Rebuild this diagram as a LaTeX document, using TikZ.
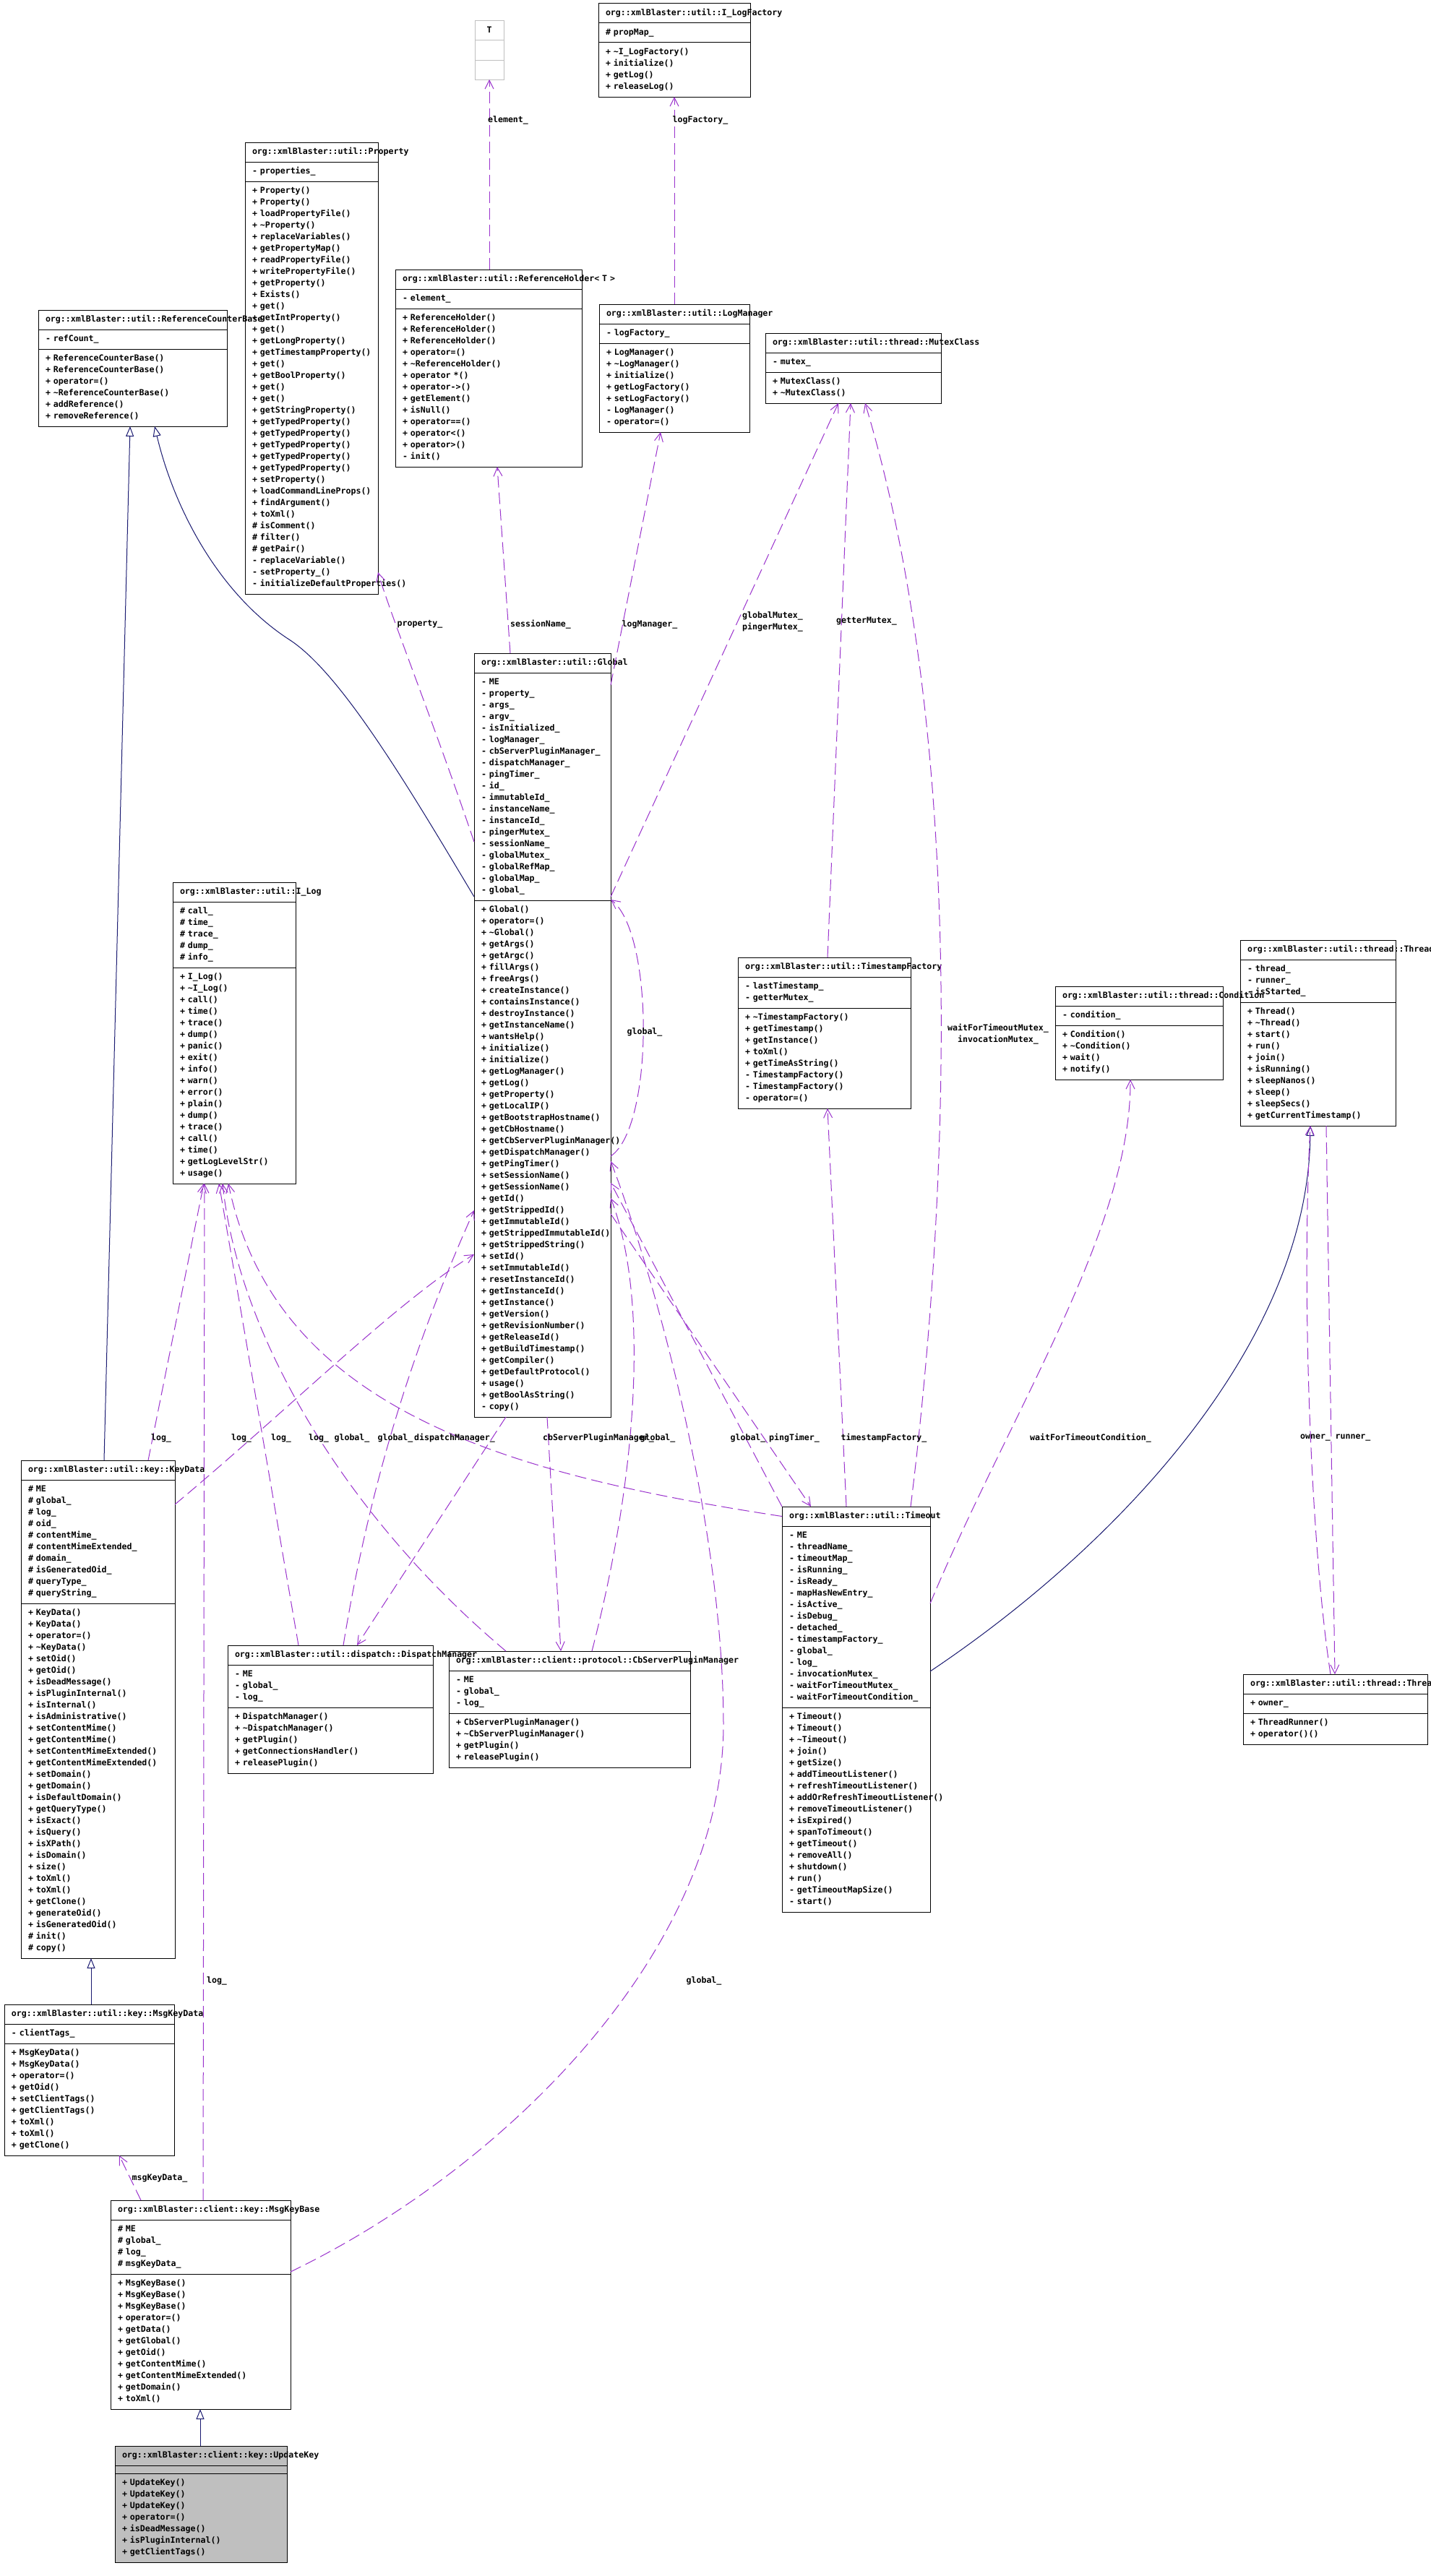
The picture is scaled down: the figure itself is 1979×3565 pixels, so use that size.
\documentclass[tikz,border=0pt]{standalone}
\usepackage{fontspec}
\newfontfamily\dxfont{DejaVu Sans Mono}
\usetikzlibrary{positioning, arrows.meta}
\definecolor{inhblue}{RGB}{25,25,112}
\definecolor{usepurple}{RGB}{154,50,205}
\definecolor{boxgray}{RGB}{191,191,191}
\newcommand{\boxfont}{\dxfont\bfseries\fontsize{11.6}{16}\selectfont}
\newcommand{\tld}{\char"7E\relax}
\newcommand{\members}[1]{\rlap{\begin{tabular}[t]{@{}l@{}}#1\end{tabular}}}
\tikzset{
  sec/.style={draw=black, line width=1pt, align=left, inner xsep=10pt, inner ysep=5.5pt, outer sep=0pt, font=\boxfont},
  inh/.style={draw=inhblue, line width=1pt, -{Triangle[open, length=14pt, width=11pt]}},
  use/.style={draw=usepurple, line width=1pt, dash pattern=on 16pt off 7pt, -{Straight Barb[length=12pt, width=12pt]}},
  lbl/.style={font=\boxfont, inner sep=0pt, align=center}
}
\begin{document}
\begin{tikzpicture}[x=1pt, y=-1pt]
\fill[white] (0,0) rectangle (1979,3565);
\useasboundingbox (0,0) rectangle (1979,3565);

% T
\node[sec, draw=boxgray, text width=20pt, align=center, anchor=north west] (t) at (657,29) {\strut T};
\node[sec, draw=boxgray, text width=20pt, below=0pt of t] (t-a) {\strut};
\node[sec, draw=boxgray, text width=20pt, below=0pt of t-a] (t-m) {\strut};

% I_LogFactory
\node[sec, text width=190pt, anchor=north west] (logfactory) at (828,5) {\members{org::xmlBlaster::util::I\_LogFactory}};
\node[sec, text width=190pt, below=0pt of logfactory] (logfactory-a) {\members{\# propMap\_}};
\node[sec, text width=190pt, below=0pt of logfactory-a] (logfactory-m) {\members{+ \tld I\_LogFactory()\\+ initialize()\\+ getLog()\\+ releaseLog()}};

% Property
\node[sec, text width=164pt, anchor=north west] (property) at (339,197) {\members{org::xmlBlaster::util::Property}};
\node[sec, text width=164pt, below=0pt of property] (property-a) {\members{- properties\_}};
\node[sec, text width=164pt, below=0pt of property-a] (property-m) {\members{+ Property()\\+ Property()\\+ loadPropertyFile()\\+ \tld Property()\\+ replaceVariables()\\+ getPropertyMap()\\+ readPropertyFile()\\+ writePropertyFile()\\+ getProperty()\\+ Exists()\\+ get()\\+ getIntProperty()\\+ get()\\+ getLongProperty()\\+ getTimestampProperty()\\+ get()\\+ getBoolProperty()\\+ get()\\+ get()\\+ getStringProperty()\\+ getTypedProperty()\\+ getTypedProperty()\\+ getTypedProperty()\\+ getTypedProperty()\\+ getTypedProperty()\\+ setProperty()\\+ loadCommandLineProps()\\+ findArgument()\\+ toXml()\\\# isComment()\\\# filter()\\\# getPair()\\- replaceVariable()\\- setProperty\_()\\- initializeDefaultProperties()}};

% ReferenceCounterBase
\node[sec, text width=241pt, anchor=north west] (rcb) at (53,429) {\members{org::xmlBlaster::util::ReferenceCounterBase}};
\node[sec, text width=241pt, below=0pt of rcb] (rcb-a) {\members{- refCount\_}};
\node[sec, text width=241pt, below=0pt of rcb-a] (rcb-m) {\members{+ ReferenceCounterBase()\\+ ReferenceCounterBase()\\+ operator=()\\+ \tld ReferenceCounterBase()\\+ addReference()\\+ removeReference()}};

% ReferenceHolder
\node[sec, text width=238pt, anchor=north west] (refholder) at (547,373) {\members{org::xmlBlaster::util::ReferenceHolder< T >}};
\node[sec, text width=238pt, below=0pt of refholder] (refholder-a) {\members{- element\_}};
\node[sec, text width=238pt, below=0pt of refholder-a] (refholder-m) {\members{+ ReferenceHolder()\\+ ReferenceHolder()\\+ ReferenceHolder()\\+ operator=()\\+ \tld ReferenceHolder()\\+ operator *()\\+ operator->()\\+ getElement()\\+ isNull()\\+ operator==()\\+ operator<()\\+ operator>()\\- init()}};

% LogManager
\node[sec, text width=188pt, anchor=north west] (logmanager) at (829,421) {\members{org::xmlBlaster::util::LogManager}};
\node[sec, text width=188pt, below=0pt of logmanager] (logmanager-a) {\members{- logFactory\_}};
\node[sec, text width=188pt, below=0pt of logmanager-a] (logmanager-m) {\members{+ LogManager()\\+ \tld LogManager()\\+ initialize()\\+ getLogFactory()\\+ setLogFactory()\\- LogManager()\\- operator=()}};

% MutexClass
\node[sec, text width=223pt, anchor=north west] (mutex) at (1059,461) {\members{org::xmlBlaster::util::thread::MutexClass}};
\node[sec, text width=223pt, below=0pt of mutex] (mutex-a) {\members{- mutex\_}};
\node[sec, text width=223pt, below=0pt of mutex-a] (mutex-m) {\members{+ MutexClass()\\+ \tld MutexClass()}};

% Global
\node[sec, text width=169pt, anchor=north west] (global) at (656,904) {\members{org::xmlBlaster::util::Global}};
\node[sec, text width=169pt, below=0pt of global] (global-a) {\members{- ME\\- property\_\\- args\_\\- argv\_\\- isInitialized\_\\- logManager\_\\- cbServerPluginManager\_\\- dispatchManager\_\\- pingTimer\_\\- id\_\\- immutableId\_\\- instanceName\_\\- instanceId\_\\- pingerMutex\_\\- sessionName\_\\- globalMutex\_\\- globalRefMap\_\\- globalMap\_\\- global\_}};
\node[sec, text width=169pt, below=0pt of global-a] (global-m) {\members{+ Global()\\+ operator=()\\+ \tld Global()\\+ getArgs()\\+ getArgc()\\+ fillArgs()\\+ freeArgs()\\+ createInstance()\\+ containsInstance()\\+ destroyInstance()\\+ getInstanceName()\\+ wantsHelp()\\+ initialize()\\+ initialize()\\+ getLogManager()\\+ getLog()\\+ getProperty()\\+ getLocalIP()\\+ getBootstrapHostname()\\+ getCbHostname()\\+ getCbServerPluginManager()\\+ getDispatchManager()\\+ getPingTimer()\\+ setSessionName()\\+ getSessionName()\\+ getId()\\+ getStrippedId()\\+ getImmutableId()\\+ getStrippedImmutableId()\\+ getStrippedString()\\+ setId()\\+ setImmutableId()\\+ resetInstanceId()\\+ getInstanceId()\\+ getInstance()\\+ getVersion()\\+ getRevisionNumber()\\+ getReleaseId()\\+ getBuildTimestamp()\\+ getCompiler()\\+ getDefaultProtocol()\\+ usage()\\+ getBoolAsString()\\- copy()}};

% I_Log
\node[sec, text width=150pt, anchor=north west] (ilog) at (239,1221) {\members{org::xmlBlaster::util::I\_Log}};
\node[sec, text width=150pt, below=0pt of ilog] (ilog-a) {\members{\# call\_\\\# time\_\\\# trace\_\\\# dump\_\\\# info\_}};
\node[sec, text width=150pt, below=0pt of ilog-a] (ilog-m) {\members{+ I\_Log()\\+ \tld I\_Log()\\+ call()\\+ time()\\+ trace()\\+ dump()\\+ panic()\\+ exit()\\+ info()\\+ warn()\\+ error()\\+ plain()\\+ dump()\\+ trace()\\+ call()\\+ time()\\+ getLogLevelStr()\\+ usage()}};

% TimestampFactory
\node[sec, text width=219pt, anchor=north west] (tsfactory) at (1021,1325) {\members{org::xmlBlaster::util::TimestampFactory}};
\node[sec, text width=219pt, below=0pt of tsfactory] (tsfactory-a) {\members{- lastTimestamp\_\\- getterMutex\_}};
\node[sec, text width=219pt, below=0pt of tsfactory-a] (tsfactory-m) {\members{+ \tld TimestampFactory()\\+ getTimestamp()\\+ getInstance()\\+ toXml()\\+ getTimeAsString()\\- TimestampFactory()\\- TimestampFactory()\\- operator=()}};

% Condition
\node[sec, text width=212pt, anchor=north west] (condition) at (1460,1365) {\members{org::xmlBlaster::util::thread::Condition}};
\node[sec, text width=212pt, below=0pt of condition] (condition-a) {\members{- condition\_}};
\node[sec, text width=212pt, below=0pt of condition-a] (condition-m) {\members{+ Condition()\\+ \tld Condition()\\+ wait()\\+ notify()}};

% Thread
\node[sec, text width=195pt, anchor=north west] (thread) at (1716,1301) {\members{org::xmlBlaster::util::thread::Thread}};
\node[sec, text width=195pt, below=0pt of thread] (thread-a) {\members{- thread\_\\- runner\_\\- isStarted\_}};
\node[sec, text width=195pt, below=0pt of thread-a] (thread-m) {\members{+ Thread()\\+ \tld Thread()\\+ start()\\+ run()\\+ join()\\+ isRunning()\\+ sleepNanos()\\+ sleep()\\+ sleepSecs()\\+ getCurrentTimestamp()}};

% KeyData
\node[sec, text width=193pt, anchor=north west] (keydata) at (29,2021) {\members{org::xmlBlaster::util::key::KeyData}};
\node[sec, text width=193pt, below=0pt of keydata] (keydata-a) {\members{\# ME\\\# global\_\\\# log\_\\\# oid\_\\\# contentMime\_\\\# contentMimeExtended\_\\\# domain\_\\\# isGeneratedOid\_\\\# queryType\_\\\# queryString\_}};
\node[sec, text width=193pt, below=0pt of keydata-a] (keydata-m) {\members{+ KeyData()\\+ KeyData()\\+ operator=()\\+ \tld KeyData()\\+ setOid()\\+ getOid()\\+ isDeadMessage()\\+ isPluginInternal()\\+ isInternal()\\+ isAdministrative()\\+ setContentMime()\\+ getContentMime()\\+ setContentMimeExtended()\\+ getContentMimeExtended()\\+ setDomain()\\+ getDomain()\\+ isDefaultDomain()\\+ getQueryType()\\+ isExact()\\+ isQuery()\\+ isXPath()\\+ isDomain()\\+ size()\\+ toXml()\\+ toXml()\\+ getClone()\\+ generateOid()\\+ isGeneratedOid()\\\# init()\\\# copy()}};

% DispatchManager
\node[sec, text width=264pt, anchor=north west] (dispatch) at (315,2277) {\members{org::xmlBlaster::util::dispatch::DispatchManager}};
\node[sec, text width=264pt, below=0pt of dispatch] (dispatch-a) {\members{- ME\\- global\_\\- log\_}};
\node[sec, text width=264pt, below=0pt of dispatch-a] (dispatch-m) {\members{+ DispatchManager()\\+ \tld DispatchManager()\\+ getPlugin()\\+ getConnectionsHandler()\\+ releasePlugin()}};

% CbServerPluginManager
\node[sec, text width=314pt, anchor=north west] (cbplugin) at (621,2285) {\members{org::xmlBlaster::client::protocol::CbServerPluginManager}};
\node[sec, text width=314pt, below=0pt of cbplugin] (cbplugin-a) {\members{- ME\\- global\_\\- log\_}};
\node[sec, text width=314pt, below=0pt of cbplugin-a] (cbplugin-m) {\members{+ CbServerPluginManager()\\+ \tld CbServerPluginManager()\\+ getPlugin()\\+ releasePlugin()}};

% Timeout
\node[sec, text width=185pt, anchor=north west] (timeout) at (1082,2085) {\members{org::xmlBlaster::util::Timeout}};
\node[sec, text width=185pt, below=0pt of timeout] (timeout-a) {\members{- ME\\- threadName\_\\- timeoutMap\_\\- isRunning\_\\- isReady\_\\- mapHasNewEntry\_\\- isActive\_\\- isDebug\_\\- detached\_\\- timestampFactory\_\\- global\_\\- log\_\\- invocationMutex\_\\- waitForTimeoutMutex\_\\- waitForTimeoutCondition\_}};
\node[sec, text width=185pt, below=0pt of timeout-a] (timeout-m) {\members{+ Timeout()\\+ Timeout()\\+ \tld Timeout()\\+ join()\\+ getSize()\\+ addTimeoutListener()\\+ refreshTimeoutListener()\\+ addOrRefreshTimeoutListener()\\+ removeTimeoutListener()\\+ isExpired()\\+ spanToTimeout()\\+ getTimeout()\\+ removeAll()\\+ shutdown()\\+ run()\\- getTimeoutMapSize()\\- start()}};

% ThreadRunner
\node[sec, text width=235pt, anchor=north west] (runner) at (1720,2317) {\members{org::xmlBlaster::util::thread::ThreadRunner}};
\node[sec, text width=235pt, below=0pt of runner] (runner-a) {\members{+ owner\_}};
\node[sec, text width=235pt, below=0pt of runner-a] (runner-m) {\members{+ ThreadRunner()\\+ operator()()}};

% MsgKeyData
\node[sec, text width=215pt, anchor=north west] (msgkeydata) at (6,2774) {\members{org::xmlBlaster::util::key::MsgKeyData}};
\node[sec, text width=215pt, below=0pt of msgkeydata] (msgkeydata-a) {\members{- clientTags\_}};
\node[sec, text width=215pt, below=0pt of msgkeydata-a] (msgkeydata-m) {\members{+ MsgKeyData()\\+ MsgKeyData()\\+ operator=()\\+ getOid()\\+ setClientTags()\\+ getClientTags()\\+ toXml()\\+ toXml()\\+ getClone()}};

% MsgKeyBase
\node[sec, text width=229pt, anchor=north west] (msgkeybase) at (153,3045) {\members{org::xmlBlaster::client::key::MsgKeyBase}};
\node[sec, text width=229pt, below=0pt of msgkeybase] (msgkeybase-a) {\members{\# ME\\\# global\_\\\# log\_\\\# msgKeyData\_}};
\node[sec, text width=229pt, below=0pt of msgkeybase-a] (msgkeybase-m) {\members{+ MsgKeyBase()\\+ MsgKeyBase()\\+ MsgKeyBase()\\+ operator=()\\+ getData()\\+ getGlobal()\\+ getOid()\\+ getContentMime()\\+ getContentMimeExtended()\\+ getDomain()\\+ toXml()}};

% UpdateKey
\node[sec, fill=boxgray, text width=218pt, anchor=north west] (updatekey) at (159,3385) {\members{org::xmlBlaster::client::key::UpdateKey}};
\node[sec, fill=boxgray, text width=218pt, below=0pt of updatekey] (updatekey-a) {\members{}};
\node[sec, fill=boxgray, text width=218pt, below=0pt of updatekey-a] (updatekey-m) {\members{+ UpdateKey()\\+ UpdateKey()\\+ UpdateKey()\\+ operator=()\\+ isDeadMessage()\\+ isPluginInternal()\\+ getClientTags()}};

% inheritance
\draw[inh] (keydata.north -| 144,0) -- (rcb-m.south -| 180,0);
\draw[inh] (global-a.west |- 0,1241) .. controls (560,1080) and (470,930) .. (400,885) .. controls (300,820) and (240,700) .. (rcb-m.south -| 214,0);
\draw[inh] (msgkeydata.north -| 126,0) -- (keydata-m.south -| 126,0);
\draw[inh] (updatekey.north -| 277,0) -- (msgkeybase-m.south -| 277,0);
\draw[inh] (timeout-a.east |- 0,2313) .. controls (1560,2130) and (1810,1850) .. (thread-m.south -| 1813,0);

% usage relations
\draw[use] (refholder.north -| 677,0) -- (t-m.south -| 677,0);
\draw[use] (logmanager.north -| 933,0) -- (logfactory-m.south -| 933,0);
\draw[use] (global-a.west |- 0,1165) .. controls (600,1000) and (540,850) .. (property-m.east |- 0,792);
\draw[use] (global.north -| 706,0) -- (refholder-m.south -| 688,0);
\draw[use] (global.east |- 0,948) -- (logmanager-m.south -| 914,0);
\draw[use] (global-a.east |- 0,1241) -- (mutex-m.south -| 1160,0);
\draw[use] (tsfactory.north -| 1145,0) -- (mutex-m.south -| 1177,0);
\draw[use] (timeout.north -| 1260,0) .. controls (1320,1600) and (1330,1000) .. (mutex-m.south -| 1197,0);
\draw[use] (timeout.north -| 1171,0) -- (tsfactory-m.south -| 1145,0);
\draw[use] (timeout-a.east |- 0,2219) .. controls (1400,1950) and (1565,1700) .. (condition-m.south -| 1564,0);
\draw[use] (thread-m.south -| 1835,0) -- (runner.north -| 1847,0);
\draw[use] (runner.north -| 1841,0) .. controls (1815,2150) and (1800,1800) .. (thread-m.south -| 1813,0);
\draw[use] (msgkeybase.north -| 195,0) -- (msgkeydata-m.south -| 165,0);
\draw[use] (msgkeybase.north -| 281,0) -- (ilog-m.south -| 283,0);
\draw[use] (msgkeybase-a.east |- 0,3144) .. controls (700,3000) and (1000,2700) .. (1001,2388) .. controls (1001,2100) and (900,1750) .. (global-m.east |- 0,1607);
\draw[use] (keydata.north -| 205,0) -- (ilog-m.south -| 282,0);
\draw[use] (dispatch.north -| 413,0) -- (ilog-m.south -| 303,0);
\draw[use] (cbplugin.north -| 700,0) .. controls (480,2100) and (330,1850) .. (ilog-m.south -| 308,0);
\draw[use] (timeout.west) .. controls (700,2040) and (380,1950) .. (ilog-m.south -| 316,0);
\draw[use] (keydata-a.east |- 0,2082) .. controls (400,1950) and (550,1800) .. (global-m.west |- 0,1736);
\draw[use] (dispatch.north -| 475,0) .. controls (520,2000) and (600,1800) .. (global-m.west |- 0,1675);
\draw[use] (global-m.south -| 700,0) -- (dispatch.north -| 494,0);
\draw[use] (global-m.south -| 757,0) -- (cbplugin.north -| 776,0);
\draw[use] (cbplugin.north -| 819,0) .. controls (880,2050) and (900,1800) .. (global-m.east |- 0,1658);
\draw[use] (timeout.north west) -- (global-m.east |- 0,1637);
\draw[use] (global-m.east |- 0,1680) -- (timeout.north -| 1122,0);
\draw[use] (global-m.east |- 0,1600) .. controls (905,1560) and (905,1290) .. (global-m.east |- 0,1245);

% labels
\node[lbl] (l-element) at (703,166) {element\_};
\node[lbl] (l-logfactory) at (969,166) {logFactory\_};
\node[lbl] (l-property) at (581,864) {property\_};
\node[lbl] (l-session) at (748,864) {sessionName\_};
\node[lbl] (l-logmanager) at (899,864) {logManager\_};
\node[lbl] (l-globalmutex) at (1069,860) {globalMutex\_\\pingerMutex\_};
\node[lbl] (l-getter) at (1199,860) {getterMutex\_};
\node[lbl] (l-waitmutex) at (1381,1431) {waitForTimeoutMutex\_\\invocationMutex\_};
\node[lbl] (l-selfglobal) at (892,1428) {global\_};
\node[lbl] (l-keylog) at (223,1990) {log\_};
\node[lbl] (l-displog) at (334,1990) {log\_};
\node[lbl] (l-cblog) at (389,1990) {log\_};
\node[lbl] (l-tolog) at (441,1990) {log\_};
\node[lbl] (l-keyglobal) at (487,1990) {global\_};
\node[lbl] (l-dispglobal) at (547,1990) {global\_};
\node[lbl] (l-dispatch) at (629,1990) {dispatchManager\_};
\node[lbl] (l-cbplugin) at (828,1990) {cbServerPluginManager\_};
\node[lbl] (l-cbglobal) at (910,1990) {global\_};
\node[lbl] (l-toglobal) at (1035,1990) {global\_};
\node[lbl] (l-ping) at (1099,1990) {pingTimer\_};
\node[lbl] (l-tsfactory) at (1223,1990) {timestampFactory\_};
\node[lbl] (l-condition) at (1509,1990) {waitForTimeoutCondition\_};
\node[lbl] (l-owner) at (1820,1990) {owner\_};
\node[lbl] (l-runner) at (1872,1990) {runner\_};
\node[lbl] (l-mkblog) at (300,2741) {log\_};
\node[lbl] (l-mkbglobal) at (974,2741) {global\_};
\node[lbl] (l-msgkeydata) at (221,3015) {msgKeyData\_};
\end{tikzpicture}
\end{document}
